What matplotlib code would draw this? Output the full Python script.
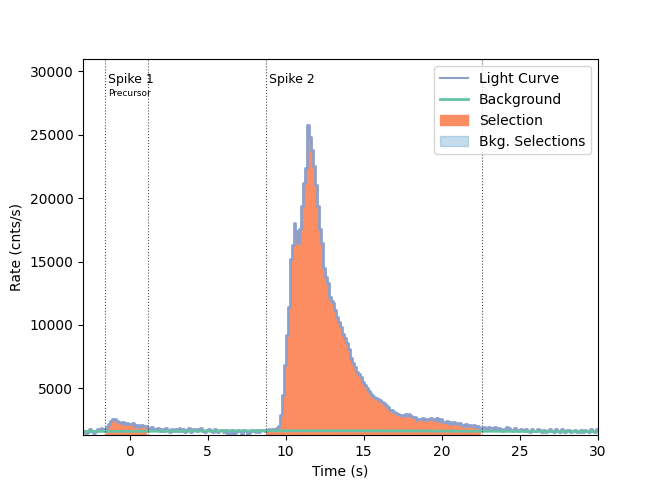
import matplotlib
matplotlib.use("Agg")
import matplotlib.pyplot as plt
import matplotlib.patches as mpatches
from matplotlib.lines import Line2D
import numpy as np

# ── Light curve (0.125 s bins starting at t = -3 s), cnts/s ─────────────────
t_start = -3.0
bin_width = 0.125
rate = [
    1620, 1480, 1580, 1750, 1650, 1500, 1610, 1780,   # -3 .. -2
    1720, 1850, 1690, 1780, 1950, 2200, 2380, 2580,   # -2 .. -1
    2550, 2420, 2300, 2250, 2350, 2180, 2280, 2200,   # -1 .. 0
    2150, 2250, 2050, 2100, 1980, 2120, 2060, 2000,   #  0 .. 1
    2050, 1900, 1750, 1920, 1680, 1820, 1880, 1650,   #  1 .. 2
    1800, 1620, 1850, 1680, 1580, 1820, 1640, 1790,   #  2 .. 3
    1600, 1880, 1650, 1800, 1560, 1720, 1900, 1580,   #  3 .. 4
    1750, 1820, 1600, 1780, 1850, 1620, 1560, 1740,   #  4 .. 5
    1800, 1620, 1580, 1760, 1600, 1540, 1720, 1680,   #  5 .. 6
    1580, 1740, 1420, 1500, 1700, 1380, 1540, 1680,   #  6 .. 7
    1620, 1400, 1700, 1650, 1300, 1520, 1720, 1640,   #  7 .. 8
    1580, 1720, 1560, 1700, 1680, 1640, 1700, 1760,   #  8 .. 9
    1700, 1750, 1800, 1850, 2000, 2900, 4500, 6800,   #  9 .. 10
    9200, 11400, 15200, 16300, 18000, 17400, 16500, 17600,   # 10 .. 11
    19400, 21200, 22400, 25800, 24800, 23800, 22500, 21000,  # 11 .. 12
    19400, 17600, 16500, 14500, 13800, 13300, 12200, 11900,  # 12 .. 13
    11700, 11200, 10600, 10200, 9800, 9300, 9000, 8550,      # 13 .. 14
    8100, 7400, 7000, 6650, 6300, 6100, 5850, 5500,   # 14 .. 15
    5250, 5050, 4800, 4600, 4450, 4300, 4250, 4150,   # 15 .. 16
    4050, 3900, 3800, 3650, 3500, 3300, 3250, 3100,   # 16 .. 17
    3030, 2950, 2900, 2870, 2820, 2950, 2900, 2950,   # 17 .. 18
    2800, 2750, 2700, 2480, 2600, 2550, 2650, 2500,   # 18 .. 19
    2600, 2550, 2650, 2580, 2500, 2620, 2450, 2550,   # 19 .. 20
    2350, 2300, 2400, 2250, 2350, 2200, 2300, 2280,   # 20 .. 21
    2150, 2250, 2100, 2050, 2180, 2000, 2100, 2050,   # 21 .. 22
    2100, 1950, 2000, 1900, 1850, 1950, 1900, 1800,   # 22 .. 23
    1950, 1900, 1780, 1920, 1700, 1880, 1750, 1650,   # 23 .. 24
    1800, 1920, 1850, 1700, 1650, 1880, 1700, 1620,   # 24 .. 25
    1750, 1680, 1600, 1820, 1650, 1580, 1800, 1640,   # 25 .. 26
    1600, 1780, 1720, 1580, 1740, 1560, 1620, 1800,   # 26 .. 27
    1640, 1580, 1760, 1620, 1560, 1750, 1600, 1540,   # 27 .. 28
    1720, 1680, 1560, 1600, 1740, 1580, 1520, 1700,   # 28 .. 29
    1580, 1740, 1600, 1560, 1800, 1620, 1580, 1750,   # 29 .. 30
]

# ── Background model ─────────────────────────────────────────────────────────
bkg_time = [-3, 0, 3, 6, 9, 12, 15, 18, 21, 24, 27, 30]
bkg_rate = [1590, 1600, 1615, 1630, 1640, 1645, 1640, 1630, 1615, 1600, 1590, 1580]

# ── Source selections and labels ─────────────────────────────────────────────
selections = [(-1.6, 1.15), (8.75, 22.6)]
spike_labels = ["Spike 1", "Spike 2"]
spike_sublabels = ["Precursor", ""]

lc_color = "#8da0cb"
bkg_color = "#66c2a5"
sel_color = "#fc8d62"

rate = np.array(rate, dtype=float)
edges = t_start + bin_width * np.arange(len(rate) + 1)
rate_step = np.append(rate, rate[-1])

fig, ax = plt.subplots(figsize=(6.64, 4.98), dpi=100)
fig.subplots_adjust(left=0.125, right=0.9, bottom=0.126, top=0.881)

# selections filled under the light curve
for lo, hi in selections:
    m = (edges >= lo - 1e-9) & (edges <= hi + 1e-9)
    ax.fill_between(edges[m], rate_step[m], 0, step="post",
                    color=sel_color, linewidth=0)

ax.step(edges, rate_step, where="post", color=lc_color, lw=2)
ax.plot(bkg_time, bkg_rate, color=bkg_color, lw=2)

ymin, ymax = 1290, 1.2 * rate.max()
for (lo, hi), lab, sub in zip(selections, spike_labels, spike_sublabels):
    ax.axvline(lo, color="k", ls=":", lw=0.8, alpha=0.7)
    ax.axvline(hi, color="k", ls=":", lw=0.8, alpha=0.7)
    ax.text(lo + 0.2, 29400, lab, fontsize=9, va="center")
    if sub:
        ax.text(lo + 0.2, 28250, sub, fontsize=6.5, va="center")

ax.set_xlim(-3, 30)
ax.set_ylim(ymin, ymax)
ax.set_xlabel("Time (s)")
ax.set_ylabel("Rate (cnts/s)")

handles = [
    Line2D([], [], color=lc_color, lw=1.5),
    Line2D([], [], color=bkg_color, lw=2),
    mpatches.Patch(color=sel_color),
    mpatches.Patch(color="#1f77b4", alpha=0.25),
]
ax.legend(handles, ["Light Curve", "Background", "Selection", "Bkg. Selections"],
          loc="upper right")

plt.savefig("out.png", dpi=100)
